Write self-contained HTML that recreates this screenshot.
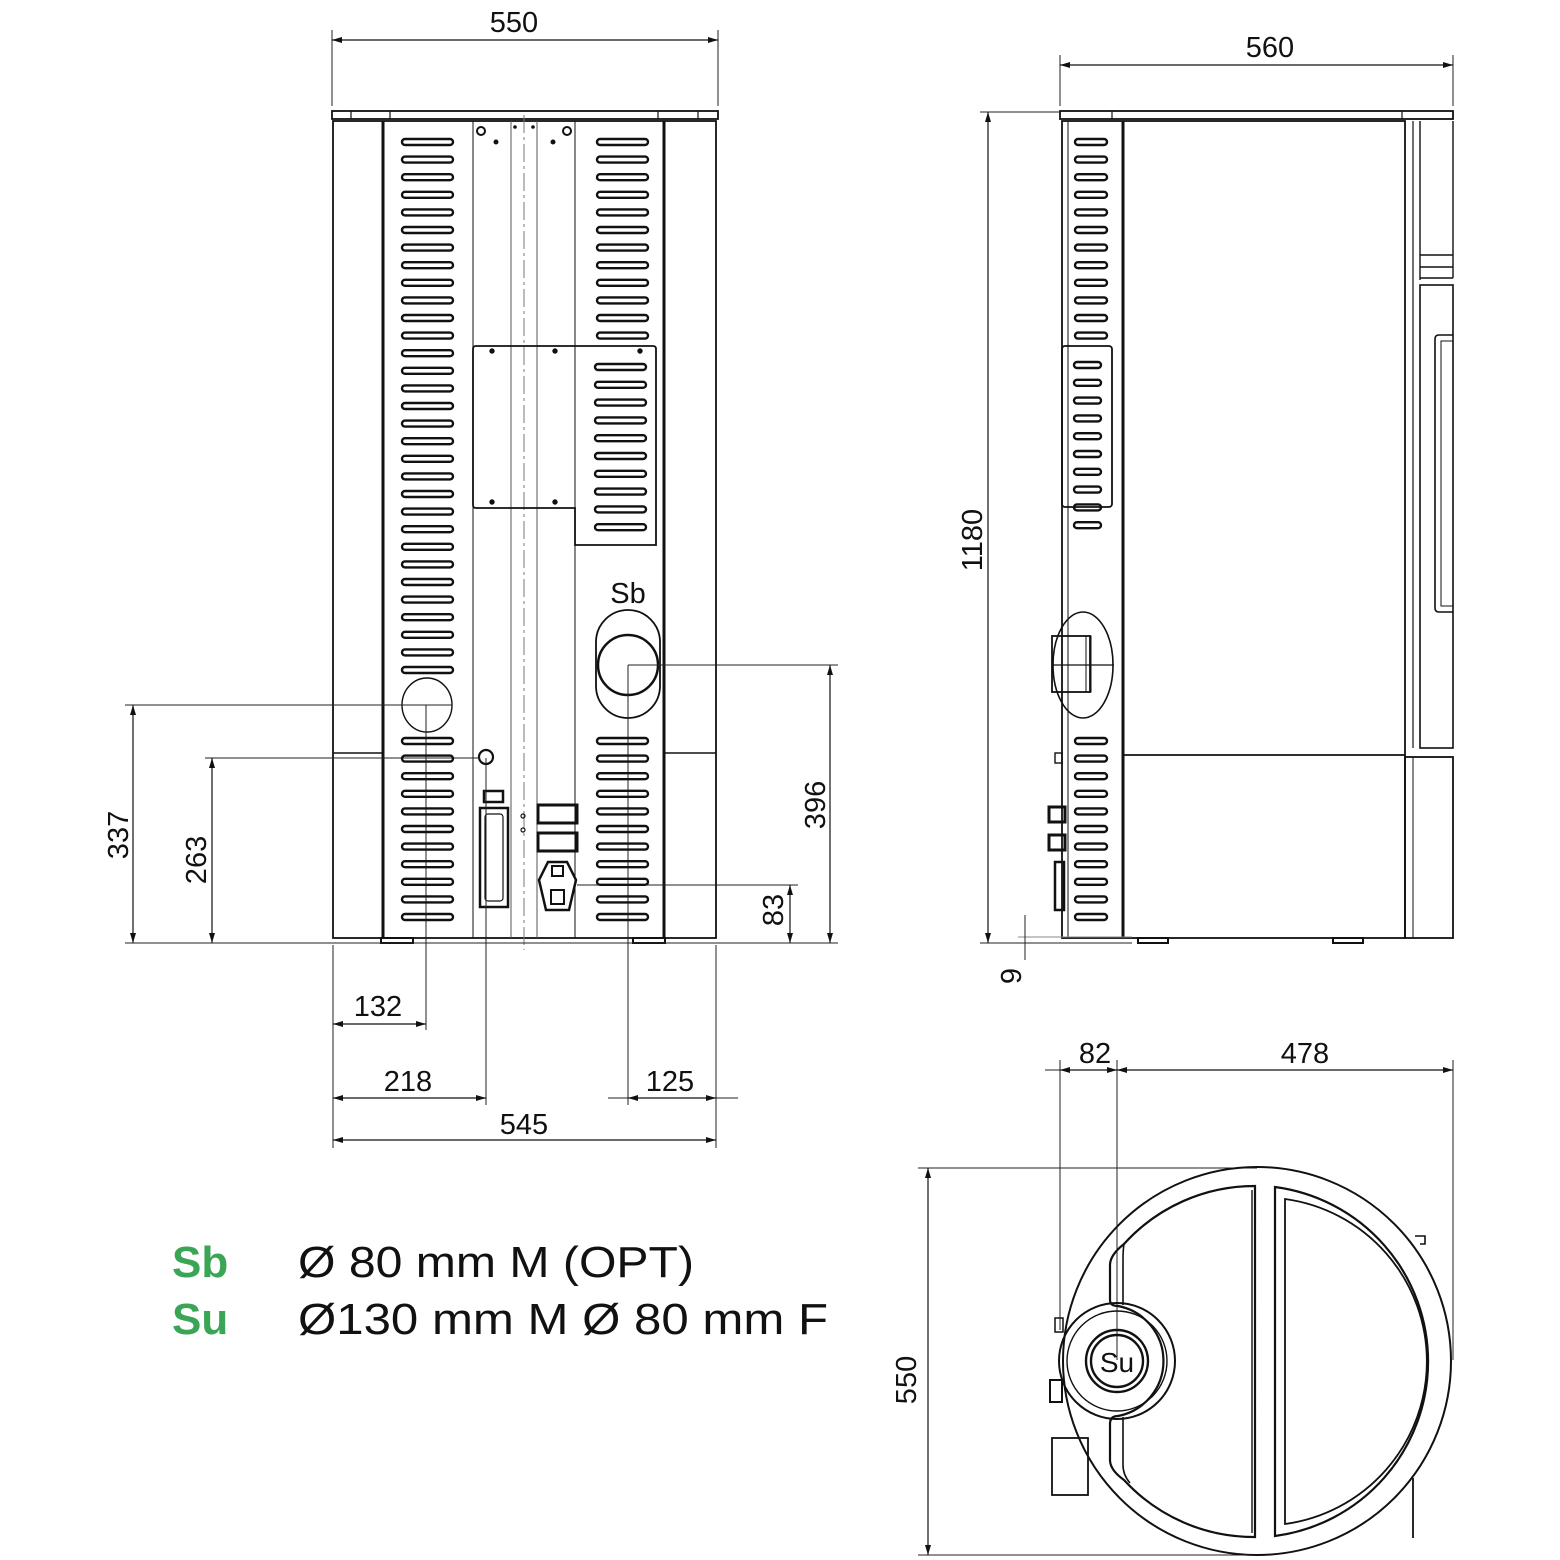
<!DOCTYPE html>
<html><head><meta charset="utf-8"><style>
html,body{margin:0;padding:0;background:#fff}
svg{display:block}
text{font-family:"Liberation Sans",sans-serif;fill:#111}
</style></head><body>
<svg width="1560" height="1560" viewBox="0 0 1560 1560" xmlns="http://www.w3.org/2000/svg">
<defs>
<marker id="a" viewBox="0 0 10 10" refX="10" refY="5" markerWidth="10" markerHeight="10" orient="auto-start-reverse" markerUnits="userSpaceOnUse"><path d="M0,2 L10,5 L0,8 Z" fill="#111"/></marker>
<rect id="s" x="0" y="-3" width="51" height="6" rx="3" fill="none" stroke="#111" stroke-width="2.4"/>
<rect id="ss" x="0" y="-3" width="32" height="6" rx="3" fill="none" stroke="#111" stroke-width="2.4"/>
<rect id="sp" x="0" y="-3" width="27" height="6" rx="3" fill="none" stroke="#111" stroke-width="2.4"/>
</defs>

<g fill="none" stroke="#111">
<rect x="332" y="111" width="386" height="8" stroke-width="1.8"/>
<line x1="351" y1="111" x2="351" y2="119" stroke-width="1.2"/>
<line x1="390" y1="111" x2="390" y2="119" stroke-width="1.2"/>
<line x1="658" y1="111" x2="658" y2="119" stroke-width="1.2"/>
<line x1="698" y1="111" x2="698" y2="119" stroke-width="1.2"/>
<rect x="333" y="121" width="383" height="817" stroke-width="1.8"/>
<line x1="383" y1="121" x2="383" y2="938" stroke-width="3"/>
<line x1="664" y1="121" x2="664" y2="938" stroke-width="3"/>
<line x1="333" y1="753" x2="383" y2="753" stroke-width="1.4"/>
<line x1="664" y1="753" x2="716" y2="753" stroke-width="1.4"/>
<line x1="473" y1="121" x2="473" y2="938" stroke-width="1"/>
<line x1="575" y1="121" x2="575" y2="938" stroke-width="1"/>
<line x1="511" y1="121" x2="511" y2="938" stroke-width="1" stroke="#555"/>
<line x1="537" y1="121" x2="537" y2="938" stroke-width="1" stroke="#555"/>
<line x1="524" y1="115" x2="524" y2="950" stroke-width="1" stroke="#777" stroke-dasharray="18,4,3,4"/>
<circle cx="481" cy="131" r="4" stroke-width="2"/><circle cx="567" cy="131" r="4" stroke-width="2"/>
<circle cx="496" cy="142" r="2" fill="#111"/><circle cx="553" cy="142" r="2" fill="#111"/>
<circle cx="515" cy="127" r="1.3" fill="#111"/><circle cx="533" cy="127" r="1.3" fill="#111"/>
<rect x="381" y="938" width="32" height="5" stroke-width="2"/>
<rect x="633" y="938" width="32" height="5" stroke-width="2"/>
<path d="M476,346 H653 Q656,346 656,349 V545 H575 V508 H476 Q473,508 473,505 V349 Q473,346 476,346 Z" stroke-width="1.8"/>
<circle cx="492" cy="351" r="2.2" fill="#111"/><circle cx="555" cy="351" r="2.2" fill="#111"/><circle cx="640" cy="351" r="2.2" fill="#111"/>
<circle cx="492" cy="502" r="2.2" fill="#111"/><circle cx="555" cy="502" r="2.2" fill="#111"/>
<rect x="596" y="610" width="64" height="108" rx="32" stroke-width="1.8"/>
<circle cx="628" cy="665" r="30" stroke-width="2.5"/>
<ellipse cx="427" cy="705" rx="25" ry="27" stroke-width="1.4"/>
<circle cx="486" cy="757" r="7" stroke-width="2.2"/>
<rect x="484" y="791" width="19" height="11" stroke-width="2.5"/>
<rect x="480" y="808" width="28" height="99" stroke-width="2.5"/>
<rect x="485" y="814" width="18" height="87" rx="3" stroke-width="1.2"/>
<circle cx="523" cy="816" r="2" stroke-width="1.2"/><circle cx="523" cy="830" r="2" stroke-width="1.2"/>
<rect x="538" y="805" width="39" height="18" stroke-width="3"/>
<rect x="538" y="833" width="39" height="18" stroke-width="3"/>
<path d="M548,862 H567 L576,880 L569,910 H546 L539,880 Z" stroke-width="2.5"/>
<rect x="551" y="890" width="13" height="14" stroke-width="2"/>
<rect x="552" y="866" width="11" height="10" stroke-width="2"/>

<g stroke-width="1" stroke="#222">
<line x1="332" y1="30" x2="332" y2="106"/><line x1="718" y1="30" x2="718" y2="106"/>
<line x1="125" y1="705" x2="452" y2="705"/>
<line x1="205" y1="758" x2="480" y2="758"/>
<line x1="125" y1="943" x2="838" y2="943"/>
<line x1="628" y1="665" x2="838" y2="665"/>
<line x1="577" y1="885" x2="798" y2="885"/>
<line x1="426" y1="705" x2="426" y2="1030"/>
<line x1="486" y1="758" x2="486" y2="1105"/>
<line x1="628" y1="665" x2="628" y2="1105"/>
<line x1="333" y1="945" x2="333" y2="1148"/>
<line x1="716" y1="945" x2="716" y2="1148"/>
<line x1="608" y1="1098" x2="738" y2="1098"/>
</g>
<g stroke-width="1.2" marker-start="url(#a)" marker-end="url(#a)">
<line x1="332" y1="40" x2="718" y2="40"/>
<line x1="133" y1="705" x2="133" y2="943"/>
<line x1="212" y1="758" x2="212" y2="943"/>
<line x1="830" y1="665" x2="830" y2="943"/>
<line x1="790" y1="885" x2="790" y2="943"/>
<line x1="333" y1="1024" x2="426" y2="1024"/>
<line x1="333" y1="1098" x2="486" y2="1098"/>
<line x1="628" y1="1098" x2="716" y2="1098"/>
<line x1="333" y1="1140" x2="716" y2="1140"/>
</g>

<rect x="1060" y="111" width="393" height="8" stroke-width="1.8"/>
<line x1="1112" y1="111" x2="1112" y2="119" stroke-width="1.2"/>
<line x1="1402" y1="111" x2="1402" y2="119" stroke-width="1.2"/>
<rect x="1062" y="121" width="343" height="817" stroke-width="1.8"/>
<line x1="1068" y1="121" x2="1068" y2="938" stroke-width="1"/>
<line x1="1123" y1="121" x2="1123" y2="938" stroke-width="3"/>
<line x1="1123" y1="755" x2="1405" y2="755" stroke-width="1.8"/>
<line x1="1413" y1="121" x2="1413" y2="748" stroke-width="1.2"/>
<line x1="1420" y1="121" x2="1420" y2="280" stroke-width="1.4"/>
<line x1="1420" y1="255" x2="1453" y2="255" stroke-width="1.4"/>
<line x1="1420" y1="267" x2="1453" y2="267" stroke-width="1.4"/>
<line x1="1420" y1="278" x2="1453" y2="278" stroke-width="1.4"/>
<line x1="1453" y1="121" x2="1453" y2="278" stroke-width="1.4"/>
<rect x="1420" y="285" width="33" height="463" stroke-width="1.6"/>
<path d="M1453,335 H1439 Q1435,335 1435,339 V608 Q1435,612 1439,612 H1453" stroke-width="1.6"/>
<path d="M1453,341 H1441 V606 H1453" stroke-width="1"/>
<rect x="1405" y="757" width="48" height="181" stroke-width="1.8"/>
<line x1="1413" y1="757" x2="1413" y2="938" stroke-width="1"/>
<rect x="1062" y="346" width="50" height="161" rx="3" stroke-width="1.8"/>
<ellipse cx="1083" cy="665" rx="30" ry="53" stroke-width="1.6"/>
<rect x="1052" y="636" width="38" height="56" stroke-width="1.8"/>
<line x1="1052" y1="665" x2="1114" y2="665" stroke-width="1.2"/>
<rect x="1086" y="636" width="5" height="56" stroke-width="1"/>
<rect x="1049" y="807" width="16" height="15" stroke-width="3"/>
<rect x="1049" y="835" width="16" height="15" stroke-width="3"/>
<rect x="1055" y="862" width="9" height="48" stroke-width="2.5"/>
<rect x="1055" y="753" width="7" height="10" stroke-width="1.4"/>
<rect x="1138" y="938" width="30" height="5" stroke-width="2"/>
<rect x="1333" y="938" width="30" height="5" stroke-width="2"/>
<g stroke-width="1" stroke="#222">
<line x1="1060" y1="55" x2="1060" y2="106"/><line x1="1453" y1="55" x2="1453" y2="106"/>
<line x1="980" y1="112" x2="1060" y2="112"/>
<line x1="980" y1="943" x2="1132" y2="943"/>
<line x1="1018" y1="937" x2="1132" y2="937" stroke="#888"/>
<line x1="1025" y1="915" x2="1025" y2="960"/>
</g>
<g stroke-width="1.2" marker-start="url(#a)" marker-end="url(#a)">
<line x1="1060" y1="65" x2="1453" y2="65"/>
<line x1="988" y1="112" x2="988" y2="943"/>
</g>

<g stroke-width="1" stroke="#222">
<line x1="1060" y1="1060" x2="1060" y2="1330"/>
<line x1="1117" y1="1060" x2="1117" y2="1360"/>
<line x1="1453" y1="1060" x2="1453" y2="1360"/>
<line x1="918" y1="1168" x2="1257" y2="1168"/>
<line x1="918" y1="1555" x2="1257" y2="1555"/>
<line x1="1045" y1="1070" x2="1060" y2="1070"/>
</g>
<g stroke-width="1.2" marker-start="url(#a)" marker-end="url(#a)">
<line x1="1060" y1="1070" x2="1117" y2="1070"/>
<line x1="1117" y1="1070" x2="1453" y2="1070"/>
<line x1="928" y1="1168" x2="928" y2="1555"/>
</g>
<circle cx="1257" cy="1361" r="194" stroke-width="2"/>
<path d="M1255,1186 A176,176 0 0 0 1124,1244 Q1110,1255 1110,1265 V1300 Q1110,1306 1118,1306 A56,56 0 0 1 1118,1416 Q1110,1416 1110,1424 V1460 Q1110,1470 1124,1480 A176,176 0 0 0 1255,1537 Z" stroke-width="2.2"/>
<path d="M1124,1244 Q1123,1250 1123,1260 V1305 M1123,1417 V1465 Q1123,1475 1130,1483" stroke-width="1.6"/>
<line x1="1252" y1="1190" x2="1252" y2="1533" stroke-width="1.4"/>
<path d="M1275,1187 A176,176 0 0 1 1275,1536 Z" stroke-width="2.2"/>
<path d="M1285,1199 A164,164 0 0 1 1285,1524 Z" stroke-width="1.8"/>
<circle cx="1117" cy="1361" r="58" stroke-width="2"/>
<circle cx="1117" cy="1361" r="50" stroke-width="1.4"/>
<circle cx="1117" cy="1361" r="31" stroke-width="2.4"/>
<circle cx="1117" cy="1361" r="26" stroke-width="2.4"/>
<rect x="1052" y="1438" width="36" height="57" stroke-width="1.8"/>
<rect x="1050" y="1380" width="12" height="22" stroke-width="2"/>
<rect x="1055" y="1318" width="8" height="14" stroke-width="1.5"/>
<path d="M1415,1236 H1425 V1244 H1420" stroke-width="1.6"/>
<line x1="1413" y1="1478" x2="1413" y2="1538" stroke-width="1.8"/>
</g>

<g>
<use href="#s" x="402" y="142"/><use href="#s" x="402" y="159.6"/><use href="#s" x="402" y="177.2"/><use href="#s" x="402" y="194.8"/><use href="#s" x="402" y="212.4"/><use href="#s" x="402" y="230"/><use href="#s" x="402" y="247.6"/><use href="#s" x="402" y="265.2"/><use href="#s" x="402" y="282.8"/><use href="#s" x="402" y="300.4"/><use href="#s" x="402" y="318"/><use href="#s" x="402" y="335.6"/><use href="#s" x="402" y="353.2"/><use href="#s" x="402" y="370.8"/><use href="#s" x="402" y="388.4"/><use href="#s" x="402" y="406"/><use href="#s" x="402" y="423.6"/><use href="#s" x="402" y="441.2"/><use href="#s" x="402" y="458.8"/><use href="#s" x="402" y="476.4"/><use href="#s" x="402" y="494"/><use href="#s" x="402" y="511.6"/><use href="#s" x="402" y="529.2"/><use href="#s" x="402" y="546.8"/><use href="#s" x="402" y="564.4"/><use href="#s" x="402" y="582"/><use href="#s" x="402" y="599.6"/><use href="#s" x="402" y="617.2"/><use href="#s" x="402" y="634.8"/><use href="#s" x="402" y="652.4"/><use href="#s" x="402" y="670"/>
<use href="#s" x="402" y="741"/><use href="#s" x="402" y="758.6"/><use href="#s" x="402" y="776.2"/><use href="#s" x="402" y="793.8"/><use href="#s" x="402" y="811.4"/><use href="#s" x="402" y="829"/><use href="#s" x="402" y="846.6"/><use href="#s" x="402" y="864.2"/><use href="#s" x="402" y="881.8"/><use href="#s" x="402" y="899.4"/><use href="#s" x="402" y="917"/>
<use href="#s" x="597" y="142"/><use href="#s" x="597" y="159.6"/><use href="#s" x="597" y="177.2"/><use href="#s" x="597" y="194.8"/><use href="#s" x="597" y="212.4"/><use href="#s" x="597" y="230"/><use href="#s" x="597" y="247.6"/><use href="#s" x="597" y="265.2"/><use href="#s" x="597" y="282.8"/><use href="#s" x="597" y="300.4"/><use href="#s" x="597" y="318"/><use href="#s" x="597" y="335.6"/>
<use href="#s" x="595" y="367"/><use href="#s" x="595" y="384.8"/><use href="#s" x="595" y="402.6"/><use href="#s" x="595" y="420.4"/><use href="#s" x="595" y="438.2"/><use href="#s" x="595" y="456"/><use href="#s" x="595" y="473.8"/><use href="#s" x="595" y="491.6"/><use href="#s" x="595" y="509.4"/><use href="#s" x="595" y="527.2"/>
<use href="#s" x="597" y="741"/><use href="#s" x="597" y="758.6"/><use href="#s" x="597" y="776.2"/><use href="#s" x="597" y="793.8"/><use href="#s" x="597" y="811.4"/><use href="#s" x="597" y="829"/><use href="#s" x="597" y="846.6"/><use href="#s" x="597" y="864.2"/><use href="#s" x="597" y="881.8"/><use href="#s" x="597" y="899.4"/><use href="#s" x="597" y="917"/>
<use href="#ss" x="1075" y="142"/><use href="#ss" x="1075" y="159.6"/><use href="#ss" x="1075" y="177.2"/><use href="#ss" x="1075" y="194.8"/><use href="#ss" x="1075" y="212.4"/><use href="#ss" x="1075" y="230"/><use href="#ss" x="1075" y="247.6"/><use href="#ss" x="1075" y="265.2"/><use href="#ss" x="1075" y="282.8"/><use href="#ss" x="1075" y="300.4"/><use href="#ss" x="1075" y="318"/><use href="#ss" x="1075" y="335.6"/>
<use href="#sp" x="1074" y="365"/><use href="#sp" x="1074" y="382.8"/><use href="#sp" x="1074" y="400.6"/><use href="#sp" x="1074" y="418.4"/><use href="#sp" x="1074" y="436.2"/><use href="#sp" x="1074" y="454"/><use href="#sp" x="1074" y="471.8"/><use href="#sp" x="1074" y="489.6"/><use href="#sp" x="1074" y="507.4"/><use href="#sp" x="1074" y="525.2"/>
<use href="#ss" x="1075" y="741"/><use href="#ss" x="1075" y="758.6"/><use href="#ss" x="1075" y="776.2"/><use href="#ss" x="1075" y="793.8"/><use href="#ss" x="1075" y="811.4"/><use href="#ss" x="1075" y="829"/><use href="#ss" x="1075" y="846.6"/><use href="#ss" x="1075" y="864.2"/><use href="#ss" x="1075" y="881.8"/><use href="#ss" x="1075" y="899.4"/><use href="#ss" x="1075" y="917"/>
</g>

<g font-size="29" text-anchor="middle">
<text x="514" y="32">550</text>
<text x="1270" y="57">560</text>
<text x="628" y="603">Sb</text>
<text x="378" y="1016">132</text>
<text x="408" y="1091">218</text>
<text x="670" y="1091">125</text>
<text x="524" y="1134">545</text>
<text x="1095" y="1063">82</text>
<text x="1305" y="1063">478</text>
<text x="1117" y="1372" font-size="28">Su</text>
<text transform="translate(128,835) rotate(-90)">337</text>
<text transform="translate(206,860) rotate(-90)">263</text>
<text transform="translate(825,805) rotate(-90)">396</text>
<text transform="translate(783,910) rotate(-90)">83</text>
<text transform="translate(982,540) rotate(-90)">1180</text>
<text transform="translate(1021,976) rotate(-90)">9</text>
<text transform="translate(916,1380) rotate(-90)">550</text>
</g>
<g font-size="44">
<text x="172" y="1277" font-weight="bold" style="fill:#3aa655">Sb</text>
<text x="172" y="1334" font-weight="bold" style="fill:#3aa655">Su</text>
<text x="298" y="1277" textLength="396" lengthAdjust="spacingAndGlyphs">Ø 80 mm M (OPT)</text>
<text x="298" y="1334" textLength="530" lengthAdjust="spacingAndGlyphs">Ø130 mm M Ø 80 mm F</text>
</g>
</svg>
</body></html>
